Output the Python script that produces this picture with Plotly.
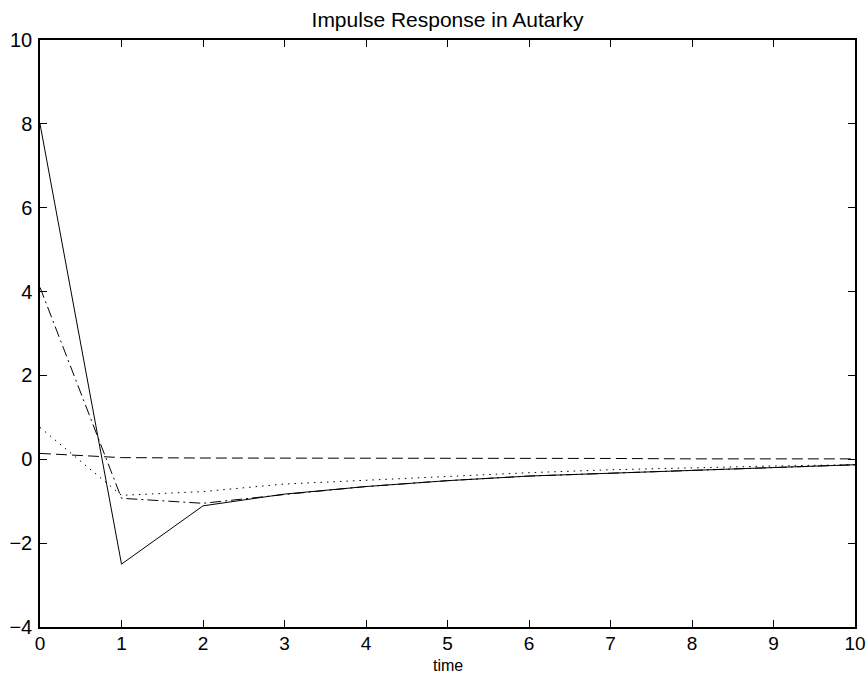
import plotly.graph_objects as go

time = [0, 1, 2, 3, 4, 5, 6, 7, 8, 9, 10]
solid_vals = [8.0, -2.5, -1.11, -0.83, -0.65, -0.51, -0.40, -0.33, -0.26, -0.20, -0.13]
dashdot_vals = [4.1, -0.93, -1.05, -0.84, -0.65, -0.51, -0.40, -0.33, -0.26, -0.20, -0.13]
dotted_vals = [0.76, -0.86, -0.77, -0.59, -0.50, -0.41, -0.32, -0.25, -0.20, -0.16, -0.13]
dashed_vals = [0.14, 0.04, 0.03, 0.03, 0.03, 0.02, 0.02, 0.02, 0.01, 0.01, 0.01]

x_ticks = [0, 1, 2, 3, 4, 5, 6, 7, 8, 9, 10]
y_ticks = [-4, -2, 0, 2, 4, 6, 8, 10]

FONT = "Liberation Sans, Arial, Helvetica, sans-serif"

fig = go.Figure()
series = [
    (solid_vals, "solid"),
    (dashdot_vals, "11px,4px,2px,4px"),
    (dotted_vals, "1.5px,5px"),
    (dashed_vals, "11px,5px"),
]
for vals, dash in series:
    fig.add_trace(go.Scatter(x=time, y=vals, mode="lines",
                             line=dict(color="black", width=1, dash=dash),
                             showlegend=False))

axis_common = dict(
    showgrid=False, zeroline=False, showline=True, linecolor="black", linewidth=1.5,
    mirror="ticks", ticks="inside", ticklen=7, tickcolor="black", tickwidth=1,
    tickfont=dict(family=FONT, size=20, color="black"), automargin=False,
)
fig.update_xaxes(range=[0, 10], tickvals=x_ticks, ticktext=[str(v) for v in x_ticks],
                 **axis_common)
fig.update_xaxes(tickfont=dict(size=19), ticklabelstandoff=-2)
fig.update_yaxes(range=[-4, 10], tickvals=y_ticks,
                 ticktext=[str(v).replace("-", "\u2212") for v in y_ticks],
                 ticklabelstandoff=2,
                 **axis_common)

fig.add_annotation(text="time", xref="paper", yref="paper", x=0.5, y=-0.066,
                   xanchor="center", yanchor="middle", showarrow=False,
                   font=dict(family=FONT, size=16, color="black"))

fig.update_layout(
    width=868, height=677,
    margin=dict(l=40, r=13, t=40, b=50),
    paper_bgcolor="white", plot_bgcolor="white",
    title=dict(text="Impulse Response in Autarky", x=0.5156, xanchor="center", y=0.971, yanchor="middle",
               font=dict(family=FONT, size=21, color="black")),
)
fig.write_html("out.html")
